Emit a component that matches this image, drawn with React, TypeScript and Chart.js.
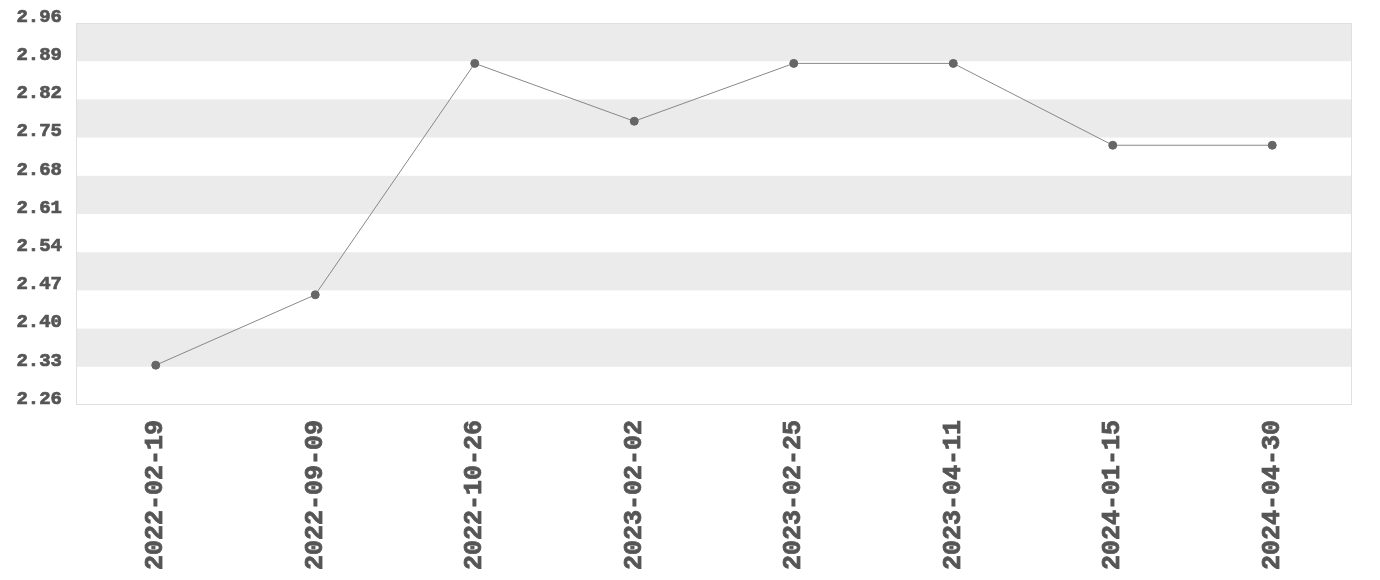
import React, { useEffect, useRef } from "react";
import { Chart, registerables } from "chart.js";

Chart.register(...registerables);

const categories = ["2022-02-19", "2022-09-09", "2022-10-26", "2023-02-02", "2023-02-25", "2023-04-11", "2024-01-15", "2024-04-30"];
const values = [2.333, 2.462, 2.886, 2.78, 2.886, 2.886, 2.736, 2.736];
const yTicks = [2.26, 2.33, 2.40, 2.47, 2.54, 2.61, 2.68, 2.75, 2.82, 2.89, 2.96];

const FONT = "'Liberation Mono', monospace";
const TEXT_COLOR = "#555555";

const bandsPlugin = {
  id: "bands",
  beforeDatasetsDraw(chart: any) {
    const { ctx, chartArea, scales } = chart;
    const y = scales.y;
    ctx.save();
    for (let i = 0; i < yTicks.length - 1; i++) {
      if (i % 2 === 1) {
        const y1 = y.getPixelForValue(yTicks[i]);
        const y2 = y.getPixelForValue(yTicks[i + 1]);
        ctx.fillStyle = "#ebebeb";
        ctx.fillRect(chartArea.left, y2, chartArea.right - chartArea.left, y1 - y2);
      }
    }
    ctx.strokeStyle = "#e0e0e0";
    ctx.lineWidth = 1;
    ctx.strokeRect(chartArea.left + 0.5, chartArea.top + 0.5, chartArea.right - chartArea.left - 1, chartArea.bottom - chartArea.top - 1);
    ctx.restore();
  },
};

export default function App() {
  const ref = useRef<HTMLCanvasElement>(null);
  useEffect(() => {
    const chart = new Chart(ref.current!, {
      type: "line",
      data: {
        labels: categories,
        datasets: [
          {
            data: values,
            borderColor: "#888888",
            borderWidth: 1,
            pointRadius: 4,
            pointBackgroundColor: "#666666",
            pointBorderColor: "#666666",
            pointBorderWidth: 1,
            tension: 0,
          },
        ],
      },
      options: {
        animation: false,
        responsive: true,
        maintainAspectRatio: false,
        layout: { padding: { top: 15, right: 20, left: 0, bottom: 0 } },
        plugins: { legend: { display: false }, tooltip: { enabled: false } },
        scales: {
          x: {
            offset: true,
            grid: { display: false, drawTicks: false, tickLength: 0 },
            border: { display: false },
            afterFit: (axis: any) => {
              axis.height = 167;
              axis.paddingLeft = 0;
              axis.paddingRight = 0;
            },
            ticks: {
              maxRotation: 90,
              minRotation: 90,
              autoSkip: false,
              color: TEXT_COLOR,
              textStrokeColor: TEXT_COLOR,
              textStrokeWidth: 0.8,
              padding: 15,
              font: { family: FONT, size: 25, weight: "bold" },
            },
          },
          y: {
            min: 2.26,
            max: 2.96,
            grid: { display: false, drawTicks: false, tickLength: 0 },
            border: { display: false },
            afterBuildTicks: (axis: any) => {
              axis.ticks = yTicks.map((v) => ({ value: v }));
            },
            afterFit: (axis: any) => {
              axis.width = 68;
              axis.paddingTop = 0;
              axis.paddingBottom = 0;
            },
            ticks: {
              color: TEXT_COLOR,
              textStrokeColor: TEXT_COLOR,
              textStrokeWidth: 0.7,
              padding: 14,
              labelOffset: -6,
              callback: (v: any) => Number(v).toFixed(2),
              font: { family: FONT, size: 19, weight: "bold" },
            },
          },
        },
      },
      plugins: [bandsPlugin],
    });
    return () => chart.destroy();
  }, []);
  return (
    <div style={{ width: "calc(100vw - 16px)", height: 564 }}>
      <canvas ref={ref} />
    </div>
  );
}
